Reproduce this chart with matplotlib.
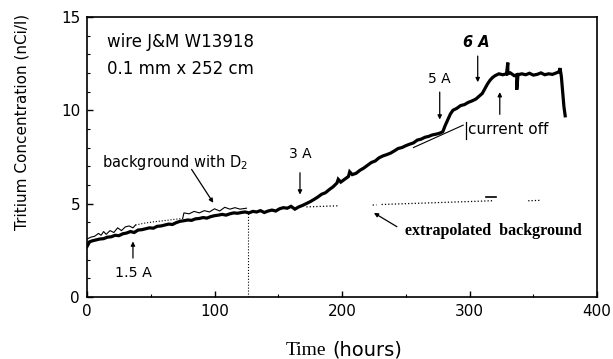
import numpy as np
import matplotlib
matplotlib.use("Agg")
import matplotlib.pyplot as plt

plt.rcParams["mathtext.fontset"] = "dejavusans"

# tritium concentration (hours, nCi/l)
t_main = [0, 2, 4, 7, 10, 13, 16, 19, 22, 25, 28, 31, 34, 37, 40, 43, 46, 49, 52, 55,
          58, 61, 64, 67, 70, 73, 76, 79, 82, 85, 88, 91, 94, 97, 100, 103, 106, 109, 112, 115,
          118, 121, 124, 127, 130, 133, 136, 139, 142, 145, 148, 151, 154, 157, 160, 163, 166, 169, 172, 175,
          178, 181, 184, 187, 190, 193, 196, 197, 199, 202, 205, 206, 208, 211, 214, 217, 220, 223, 226, 229,
          232, 235, 238, 241, 244, 247, 250, 253, 256, 259, 262, 265, 268, 271, 274, 277, 279, 281, 283, 285,
          287, 290, 293, 296, 299, 302, 305, 308, 310, 312, 314, 316, 318, 320, 323, 326, 329, 330, 330, 332,
          335, 337, 337, 338, 341, 344, 347, 350, 353, 356, 359, 362, 365, 368, 370, 371, 372, 373, 374, 375]
c_main = [2.7, 2.95, 3.0, 3.05, 3.1, 3.12, 3.2, 3.22, 3.3, 3.28, 3.38, 3.42, 3.5, 3.45, 3.58, 3.6, 3.65, 3.7, 3.68, 3.78,
          3.8, 3.85, 3.9, 3.88, 3.98, 4.05, 4.08, 4.12, 4.1, 4.18, 4.2, 4.25, 4.22, 4.3, 4.35, 4.38, 4.42, 4.38, 4.45, 4.5,
          4.48, 4.52, 4.55, 4.5, 4.58, 4.55, 4.62, 4.52, 4.6, 4.65, 4.6, 4.72, 4.78, 4.75, 4.85, 4.7, 4.82, 4.9, 5.0, 5.1,
          5.22, 5.35, 5.5, 5.58, 5.75, 5.9, 6.1, 6.3, 6.15, 6.3, 6.45, 6.7, 6.55, 6.62, 6.78, 6.9, 7.05, 7.2, 7.28, 7.45,
          7.55, 7.62, 7.7, 7.82, 7.95, 8.0, 8.1, 8.18, 8.25, 8.4, 8.45, 8.55, 8.6, 8.68, 8.72, 8.78, 8.85, 9.2, 9.5, 9.8,
          10.0, 10.1, 10.25, 10.3, 10.42, 10.5, 10.6, 10.78, 10.9, 11.15, 11.4, 11.6, 11.75, 11.85, 11.95, 11.9, 11.95, 12.55, 11.95, 12.0,
          11.85, 11.9, 11.1, 11.9, 11.95, 11.9, 11.98, 11.88, 11.92, 12.0, 11.9, 11.95, 11.92, 12.0, 12.05, 12.25, 11.8, 11.0, 10.2, 9.7]

# background with D2 (thin trace)
t_bg = [0, 3, 6, 9, 11, 13, 15, 18, 21, 24, 27, 30, 33, 36, 38]
c_bg = [3.1, 3.2, 3.25, 3.4, 3.3, 3.5, 3.35, 3.55, 3.45, 3.7, 3.55, 3.75, 3.8, 3.7, 3.85]
t_bg_dot = [38, 45, 52, 60, 68, 75]
c_bg_dot = [3.85, 3.95, 4.02, 4.08, 4.15, 4.2]
t_bg2 = [75, 76, 80, 84, 88, 92, 96, 100, 104, 108, 112, 116, 120, 125]
c_bg2 = [4.2, 4.5, 4.45, 4.58, 4.5, 4.62, 4.55, 4.72, 4.6, 4.8, 4.7, 4.78, 4.7, 4.75]

# extrapolated background (broken dotted trace)
t_ext = [172, 197, np.nan, 224, 227, np.nan, 231, 318, np.nan, 346, 355]
c_ext = [4.82, 4.88, np.nan, 4.92, 4.93, np.nan, 4.95, 5.15, np.nan, 5.15, 5.17]
t_dash = [313, 321]
c_dash = [5.35, 5.35]

# fitted slope before current off
t_fit = [256, 295]
c_fit = [8.0, 9.2]

fig = plt.figure(figsize=(6.13, 3.59), dpi=100)
ax = fig.add_axes([0.142, 0.173, 0.832, 0.78])

ax.plot(t_main, c_main, color="black", lw=2.3, solid_joinstyle="miter")
ax.plot(t_bg, c_bg, color="black", lw=0.8)
ax.plot(t_bg_dot, c_bg_dot, color="black", lw=0.8, ls=":")
ax.plot(t_bg2, c_bg2, color="black", lw=0.8)
ax.plot(t_ext, c_ext, color="black", lw=0.9, ls=":")
ax.plot(t_dash, c_dash, color="black", lw=1.2)
ax.plot(t_fit, c_fit, color="black", lw=0.8)
ax.plot([297.6, 297.6], [8.45, 9.35], color="black", lw=0.9)
ax.plot([126, 126], [0, 4.5], color="black", lw=0.8, ls=":")

ax.set_xlim(0, 400)
ax.set_ylim(0, 15)
ax.set_xticks([0, 100, 200, 300, 400])
ax.set_yticks([0, 5, 10, 15])
ax.set_xticks(range(50, 400, 100), minor=True)
ax.set_yticks([v for v in range(16) if v % 5], minor=True)
ax.tick_params(which="major", direction="in", length=4, width=1, labelsize=11, pad=5)
ax.tick_params(which="minor", direction="in", length=2, width=0.8)
for s in ax.spines.values():
    s.set_linewidth(1.2)

fig.text(0.036, 0.66, "Tritium Concentration (nCi/l)", rotation=90, fontsize=11,
         ha="center", va="center")
fig.text(0.532, 0.025, "Time", family="Liberation Serif", fontsize=14, ha="right", va="center")
fig.text(0.542, 0.025, "(hours)", fontsize=14, ha="left", va="center")

ax.text(15.7, 13.65, "wire J&M W13918", fontsize=12, va="center")
ax.text(15.7, 12.2, "0.1 mm x 252 cm", fontsize=12, va="center")
ax.text(11.8, 7.2, "background with D$_2$", fontsize=10.5, va="center")
ax.text(36, 1.3, "1.5 A", fontsize=10.3, ha="center", va="center")
ax.text(167, 7.63, "3 A", fontsize=10, ha="center", va="center")
ax.text(276.6, 11.67, "5 A", fontsize=10, ha="center", va="center")
ax.text(305.6, 13.65, "6 A", fontsize=10.5, ha="center", va="center",
        weight="bold", style="italic")
ax.text(298.6, 8.98, "current off", fontsize=11, va="center")
ax.text(249, 3.55, "extrapolated  background", family="Liberation Serif", weight="bold",
        fontsize=11.5, va="center")

arrows = [((36, 2.08), (36, 2.97)),
          ((167, 6.65), (167, 5.48)),
          ((82, 6.83), (99, 5.04)),
          ((276.6, 10.97), (276.6, 9.5)),
          ((306.4, 12.9), (306.4, 11.5)),
          ((323.7, 9.78), (323.7, 10.97)),
          ((243, 3.76), (225, 4.5))]
for tail, head in arrows:
    ax.annotate("", xy=head, xytext=tail,
                arrowprops=dict(arrowstyle="-|>", color="black", lw=0.9,
                                mutation_scale=6, shrinkA=0, shrinkB=0))

fig.savefig("out.png", dpi=100)
